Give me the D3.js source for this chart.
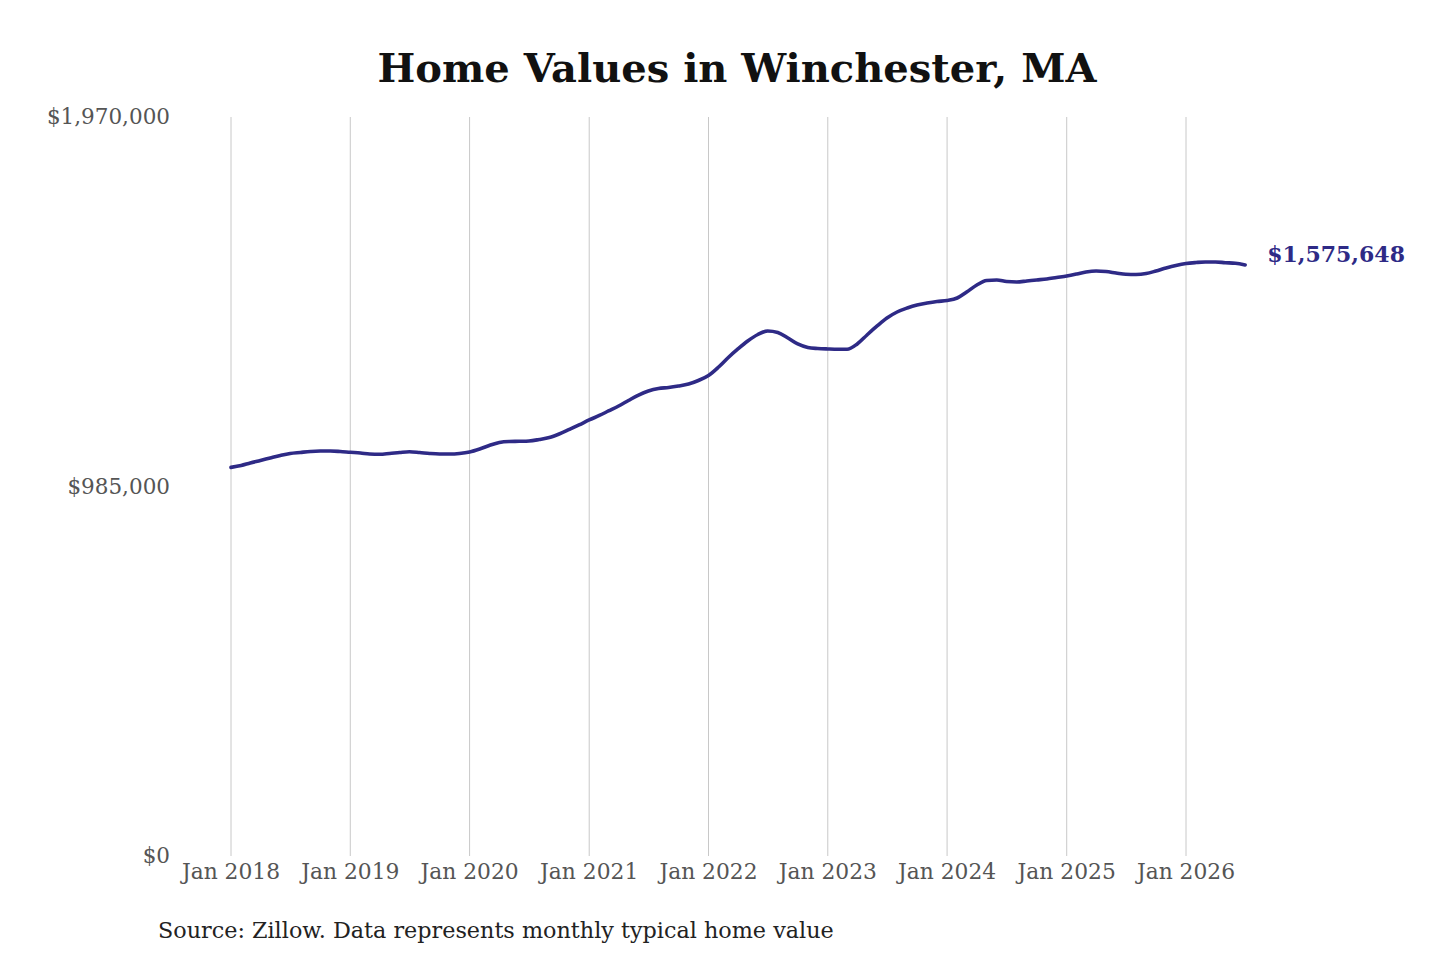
<!DOCTYPE html>
<html lang="en">
<head>
<meta charset="utf-8">
<title>Home Values in Winchester, MA</title>
<style>
  body { margin: 0; background: #fff; }
  svg text { font-family: 'DejaVu Serif', serif; }
</style>
<script src="https://d3js.org/d3.v7.min.js"></script>
</head>
<body>
<svg id="chart" width="1440" height="960"></svg>
<script>
// monthly typical home value, Jan 2018 .. Jul 2026
var startMonth = "2018-01";
var values = [
  1036000, 1041000, 1047700, 1054300, 1061000, 1067700, 1073000, 1075700, 1078300, 1079600, 1079600, 1078300,
  1076200, 1074300, 1071600, 1070800, 1073000, 1075700, 1077800, 1075700, 1073000, 1071600, 1071600, 1073000,
  1077000, 1085000, 1094300, 1102300, 1105000, 1105500, 1106300, 1110300, 1115600, 1125000, 1137000, 1149000,
  1162300, 1174300, 1186300, 1199600, 1214300, 1228900, 1239600, 1246300, 1248900, 1252900, 1258300, 1267600,
  1280900, 1303600, 1327500, 1351600, 1372900, 1390200, 1399500, 1395500, 1380900, 1364900, 1355600, 1352900,
  1351600, 1350800, 1350800, 1364900, 1388900, 1412900, 1434200, 1450200, 1460900, 1468900, 1474200, 1478200,
  1480800, 1487500, 1503500, 1522200, 1534200, 1535500, 1531500, 1530200, 1532800, 1535500, 1538200, 1542200,
  1546200, 1551500, 1556800, 1559500, 1558100, 1554200, 1550700, 1550200, 1552800, 1559500, 1567500, 1574200,
  1579500, 1582100, 1583500, 1583500, 1581600, 1580000, 1575648
];
var yTicks = [0, 985000, 1970000];
var xTickYears = [2018, 2019, 2020, 2021, 2022, 2023, 2024, 2025, 2026];
var title = "Home Values in Winchester, MA";
var source = "Source: Zillow. Data represents monthly typical home value";

var parseMonth = d3.timeParse("%Y-%m");
var t0 = parseMonth(startMonth);
var data = values.map(function (v, i) {
  return { date: d3.timeMonth.offset(t0, i), value: v };
});

var lineColor = "#2e2a86";
var svg = d3.select("#chart");

var x = d3.scaleTime()
  .domain([new Date(2018, 0, 1), new Date(2026, 0, 1)])
  .range([231, 1186]);
var y = d3.scaleLinear()
  .domain([0, 1970000])
  .range([856, 117]);

// title
svg.append("text")
  .attr("x", 737).attr("y", 82)
  .attr("text-anchor", "middle")
  .attr("font-size", 40).attr("font-weight", "bold")
  .attr("fill", "#111")
  .text(title);

// vertical grid lines at each January
svg.append("g").selectAll("line")
  .data(xTickYears)
  .join("line")
  .attr("x1", function (d) { return x(new Date(d, 0, 1)); })
  .attr("x2", function (d) { return x(new Date(d, 0, 1)); })
  .attr("y1", y(1970000)).attr("y2", y(0))
  .attr("stroke", "#c8c8c8").attr("stroke-width", 1);

// x labels
svg.append("g").selectAll("text")
  .data(xTickYears)
  .join("text")
  .attr("x", function (d) { return x(new Date(d, 0, 1)); })
  .attr("y", 879)
  .attr("text-anchor", "middle")
  .attr("font-size", 21.8).attr("fill", "#555")
  .text(function (d) { return "Jan " + d; });

// y labels
svg.append("g").selectAll("text")
  .data(yTicks)
  .join("text")
  .attr("x", 170)
  .attr("y", function (d) { return y(d) + 7; })
  .attr("text-anchor", "end")
  .attr("font-size", 21.5).attr("fill", "#555")
  .text(function (d) { return d3.format("$,")(d); });

// the line
var line = d3.line()
  .x(function (d) { return x(d.date); })
  .y(function (d) { return y(d.value); })
  .curve(d3.curveMonotoneX);

svg.append("path")
  .datum(data)
  .attr("fill", "none")
  .attr("stroke", lineColor)
  .attr("stroke-width", 3.6)
  .attr("stroke-linecap", "round")
  .attr("d", line);

// end label
var last = data[data.length - 1];
svg.append("text")
  .attr("x", x(last.date) + 22)
  .attr("y", y(last.value) - 3)
  .attr("font-size", 22).attr("font-weight", "bold")
  .attr("fill", lineColor)
  .text(d3.format("$,")(last.value));

// source
svg.append("text")
  .attr("x", 158).attr("y", 938)
  .attr("font-size", 22.3).attr("fill", "#222")
  .text(source);
</script>
</body>
</html>
